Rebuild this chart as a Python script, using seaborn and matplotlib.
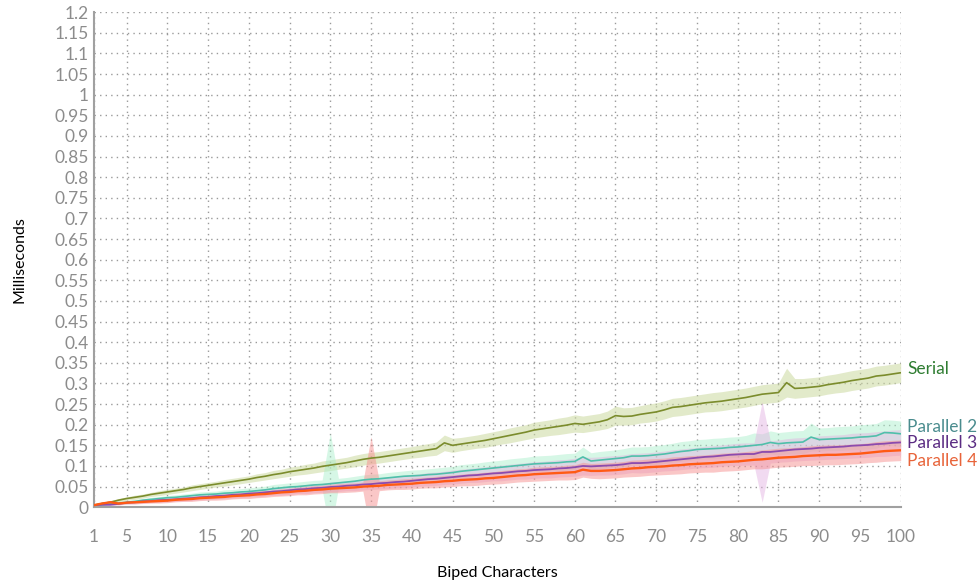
import numpy as np
import pandas as pd
import matplotlib
matplotlib.use("Agg")
import matplotlib.pyplot as plt
import seaborn as sns
from matplotlib.ticker import MultipleLocator, FixedLocator

# ---------------- data ----------------
characters = list(range(1, 101))

serial = [
    0.005, 0.009, 0.012, 0.017, 0.021, 0.024, 0.027, 0.031, 0.034, 0.037,
    0.040, 0.043, 0.047, 0.050, 0.053, 0.056, 0.059, 0.062, 0.065, 0.068,
    0.072, 0.075, 0.079, 0.082, 0.086, 0.089, 0.092, 0.095, 0.099, 0.102,
    0.105, 0.108, 0.112, 0.116, 0.119, 0.121, 0.124, 0.127, 0.130, 0.133,
    0.136, 0.139, 0.142, 0.156, 0.150, 0.153, 0.156, 0.159, 0.162, 0.166,
    0.170, 0.174, 0.178, 0.182, 0.187, 0.190, 0.193, 0.196, 0.199, 0.203,
    0.201, 0.204, 0.207, 0.212, 0.222, 0.220, 0.221, 0.225, 0.228, 0.231,
    0.236, 0.242, 0.244, 0.247, 0.250, 0.253, 0.255, 0.257, 0.260, 0.263,
    0.266, 0.270, 0.274, 0.276, 0.278, 0.302, 0.288, 0.289, 0.291, 0.293,
    0.297, 0.300, 0.303, 0.307, 0.310, 0.313, 0.318, 0.320, 0.323, 0.326,
]
parallel2 = [
    0.005, 0.006, 0.008, 0.010, 0.012, 0.014, 0.017, 0.019, 0.021, 0.023,
    0.024, 0.026, 0.028, 0.030, 0.031, 0.032, 0.034, 0.035, 0.037, 0.038,
    0.040, 0.042, 0.045, 0.047, 0.049, 0.050, 0.052, 0.054, 0.055, 0.057,
    0.059, 0.061, 0.063, 0.066, 0.068, 0.069, 0.071, 0.073, 0.075, 0.076,
    0.077, 0.079, 0.080, 0.082, 0.084, 0.087, 0.089, 0.091, 0.093, 0.095,
    0.097, 0.099, 0.101, 0.103, 0.105, 0.106, 0.107, 0.108, 0.110, 0.111,
    0.122, 0.112, 0.114, 0.116, 0.118, 0.120, 0.124, 0.124, 0.125, 0.127,
    0.129, 0.132, 0.135, 0.137, 0.140, 0.141, 0.142, 0.143, 0.145, 0.146,
    0.148, 0.150, 0.152, 0.157, 0.154, 0.156, 0.157, 0.158, 0.170, 0.164,
    0.165, 0.166, 0.167, 0.168, 0.170, 0.171, 0.173, 0.181, 0.180, 0.178,
]
parallel3 = [
    0.005, 0.006, 0.006, 0.008, 0.011, 0.012, 0.014, 0.015, 0.017, 0.018,
    0.019, 0.021, 0.022, 0.024, 0.025, 0.027, 0.028, 0.030, 0.031, 0.033,
    0.034, 0.036, 0.038, 0.039, 0.041, 0.043, 0.044, 0.046, 0.047, 0.049,
    0.050, 0.052, 0.053, 0.055, 0.056, 0.058, 0.059, 0.061, 0.062, 0.064,
    0.066, 0.068, 0.069, 0.071, 0.073, 0.075, 0.077, 0.078, 0.080, 0.082,
    0.083, 0.085, 0.087, 0.088, 0.090, 0.091, 0.092, 0.094, 0.095, 0.097,
    0.100, 0.099, 0.100, 0.101, 0.102, 0.104, 0.107, 0.107, 0.108, 0.110,
    0.112, 0.114, 0.116, 0.118, 0.120, 0.122, 0.123, 0.125, 0.127, 0.128,
    0.129, 0.129, 0.134, 0.134, 0.136, 0.138, 0.140, 0.141, 0.142, 0.144,
    0.145, 0.146, 0.147, 0.149, 0.150, 0.151, 0.153, 0.154, 0.156, 0.157,
]
parallel4 = [
    0.005, 0.009, 0.012, 0.009, 0.011, 0.012, 0.013, 0.014, 0.015, 0.016,
    0.018, 0.019, 0.020, 0.022, 0.023, 0.024, 0.025, 0.027, 0.028, 0.029,
    0.031, 0.032, 0.034, 0.036, 0.037, 0.039, 0.040, 0.042, 0.043, 0.045,
    0.046, 0.047, 0.048, 0.050, 0.051, 0.052, 0.054, 0.055, 0.056, 0.057,
    0.059, 0.060, 0.061, 0.063, 0.064, 0.066, 0.067, 0.068, 0.070, 0.071,
    0.073, 0.075, 0.077, 0.078, 0.080, 0.081, 0.082, 0.083, 0.084, 0.085,
    0.091, 0.088, 0.088, 0.089, 0.090, 0.092, 0.094, 0.095, 0.097, 0.098,
    0.099, 0.101, 0.102, 0.104, 0.105, 0.106, 0.107, 0.109, 0.110, 0.111,
    0.113, 0.115, 0.116, 0.118, 0.120, 0.121, 0.122, 0.124, 0.125, 0.126,
    0.127, 0.127, 0.128, 0.129, 0.130, 0.132, 0.134, 0.136, 0.137, 0.138,
]

# half-width of the shaded spread band around each series
serial_spread = [
    0.003, 0.003, 0.004, 0.004, 0.004, 0.005, 0.005, 0.005, 0.006, 0.006,
    0.006, 0.006, 0.007, 0.007, 0.007, 0.007, 0.008, 0.008, 0.008, 0.008,
    0.009, 0.009, 0.010, 0.010, 0.011, 0.011, 0.012, 0.012, 0.013, 0.013,
    0.013, 0.013, 0.014, 0.014, 0.014, 0.014, 0.014, 0.014, 0.014, 0.014,
    0.015, 0.015, 0.016, 0.019, 0.017, 0.016, 0.016, 0.016, 0.017, 0.017,
    0.017, 0.018, 0.018, 0.018, 0.019, 0.019, 0.019, 0.020, 0.020, 0.021,
    0.020, 0.020, 0.020, 0.021, 0.023, 0.021, 0.021, 0.021, 0.022, 0.022,
    0.022, 0.022, 0.022, 0.022, 0.022, 0.022, 0.023, 0.023, 0.023, 0.023,
    0.023, 0.023, 0.023, 0.023, 0.023, 0.035, 0.024, 0.023, 0.023, 0.023,
    0.023, 0.023, 0.024, 0.024, 0.024, 0.024, 0.024, 0.024, 0.024, 0.024,
]
parallel2_spread = [
    0.002, 0.003, 0.003, 0.003, 0.004, 0.004, 0.004, 0.005, 0.005, 0.005,
    0.006, 0.006, 0.006, 0.007, 0.007, 0.007, 0.008, 0.008, 0.008, 0.009,
    0.009, 0.009, 0.010, 0.010, 0.010, 0.011, 0.011, 0.011, 0.011, 0.123,
    0.011, 0.011, 0.012, 0.012, 0.012, 0.012, 0.013, 0.013, 0.013, 0.014,
    0.014, 0.014, 0.015, 0.015, 0.015, 0.016, 0.016, 0.016, 0.017, 0.017,
    0.017, 0.018, 0.018, 0.018, 0.019, 0.019, 0.019, 0.020, 0.020, 0.020,
    0.024, 0.020, 0.021, 0.021, 0.021, 0.022, 0.022, 0.022, 0.022, 0.023,
    0.023, 0.023, 0.024, 0.024, 0.024, 0.024, 0.025, 0.025, 0.025, 0.025,
    0.026, 0.030, 0.026, 0.028, 0.027, 0.027, 0.028, 0.028, 0.034, 0.028,
    0.028, 0.029, 0.029, 0.029, 0.030, 0.030, 0.030, 0.031, 0.031, 0.031,
]
parallel3_spread = [
    0.002, 0.002, 0.003, 0.003, 0.003, 0.004, 0.004, 0.004, 0.005, 0.005,
    0.005, 0.006, 0.006, 0.006, 0.007, 0.007, 0.007, 0.008, 0.008, 0.008,
    0.009, 0.009, 0.009, 0.010, 0.010, 0.010, 0.011, 0.011, 0.011, 0.012,
    0.012, 0.012, 0.013, 0.013, 0.013, 0.014, 0.014, 0.014, 0.015, 0.015,
    0.015, 0.016, 0.016, 0.016, 0.017, 0.017, 0.017, 0.018, 0.018, 0.018,
    0.019, 0.019, 0.019, 0.020, 0.020, 0.020, 0.021, 0.021, 0.021, 0.022,
    0.022, 0.022, 0.022, 0.023, 0.023, 0.023, 0.023, 0.024, 0.024, 0.024,
    0.024, 0.025, 0.025, 0.025, 0.025, 0.026, 0.026, 0.026, 0.026, 0.027,
    0.027, 0.027, 0.122, 0.027, 0.027, 0.028, 0.028, 0.028, 0.028, 0.029,
    0.029, 0.029, 0.029, 0.030, 0.030, 0.030, 0.030, 0.031, 0.031, 0.031,
]
parallel4_spread = [
    0.002, 0.003, 0.003, 0.003, 0.003, 0.004, 0.004, 0.004, 0.005, 0.005,
    0.005, 0.005, 0.006, 0.006, 0.006, 0.007, 0.007, 0.007, 0.007, 0.008,
    0.008, 0.008, 0.008, 0.009, 0.009, 0.009, 0.010, 0.010, 0.010, 0.010,
    0.011, 0.011, 0.011, 0.011, 0.120, 0.012, 0.012, 0.012, 0.013, 0.013,
    0.013, 0.013, 0.014, 0.014, 0.014, 0.014, 0.015, 0.015, 0.015, 0.015,
    0.016, 0.016, 0.016, 0.016, 0.017, 0.017, 0.017, 0.017, 0.018, 0.018,
    0.018, 0.018, 0.019, 0.019, 0.019, 0.019, 0.020, 0.020, 0.020, 0.020,
    0.020, 0.021, 0.021, 0.021, 0.021, 0.021, 0.022, 0.022, 0.022, 0.022,
    0.022, 0.022, 0.023, 0.023, 0.023, 0.023, 0.023, 0.023, 0.024, 0.024,
    0.024, 0.024, 0.024, 0.024, 0.024, 0.024, 0.025, 0.025, 0.025, 0.025,
]

series_names = ["Serial", "Parallel 2", "Parallel 3", "Parallel 4"]
x_tick_values = [1] + list(range(5, 101, 5))
x_label = "Biped Characters"
y_label = "Milliseconds"

# ---------------- styles ----------------
line_colors = {"Serial": "#7b8c2c", "Parallel 2": "#4fbfaa",
               "Parallel 3": "#8b4bae", "Parallel 4": "#ff5a14"}
band_colors = {"Serial": "#cbd99f", "Parallel 2": "#a6eec8",
               "Parallel 3": "#e2aee0", "Parallel 4": "#f69090"}
band_alpha = {"Serial": 0.55, "Parallel 2": 0.45, "Parallel 3": 0.45, "Parallel 4": 0.5}
label_colors = {"Serial": "#2f7d32", "Parallel 2": "#4a8c8e",
                "Parallel 3": "#5b2c83", "Parallel 4": "#e8643a"}
line_widths = {"Serial": 1.2, "Parallel 2": 1.2, "Parallel 3": 1.3, "Parallel 4": 1.7}

values = {"Serial": serial, "Parallel 2": parallel2,
          "Parallel 3": parallel3, "Parallel 4": parallel4}
spreads = {"Serial": serial_spread, "Parallel 2": parallel2_spread,
           "Parallel 3": parallel3_spread, "Parallel 4": parallel4_spread}

df = pd.concat([
    pd.DataFrame({"chars": characters, "ms": values[n], "spread": spreads[n], "series": n})
    for n in series_names
], ignore_index=True)

sns.set_theme(style="white")
plt.rcParams["font.family"] = ["Lato", "DejaVu Sans"]

fig, ax = plt.subplots(figsize=(9.79, 5.83), dpi=100)
fig.subplots_adjust(left=0.096, right=0.920, top=0.979, bottom=0.130)

# spread bands
for n in series_names:
    d = df[df.series == n]
    ax.fill_between(d.chars, d.ms - d.spread, d.ms + d.spread,
                    color=band_colors[n], alpha=band_alpha[n], lw=0, zorder=2)

# lines
for n in series_names:
    sns.lineplot(data=df[df.series == n], x="chars", y="ms", color=line_colors[n],
                 lw=line_widths[n], ax=ax, legend=False, zorder=3)

ax.set_xlim(1, 100)
ax.set_ylim(0, 1.2)

ax.xaxis.set_major_locator(FixedLocator(x_tick_values))
ax.xaxis.set_minor_locator(MultipleLocator(1))
y_ticks = np.round(np.arange(0, 1.2001, 0.05), 2)
ax.set_yticks(y_ticks)
ax.set_yticklabels([f"{v:g}" for v in y_ticks])
ax.yaxis.set_minor_locator(MultipleLocator(0.01))

grey = "#8c8c8c"
ax.tick_params(axis="both", which="major", direction="in", length=6, width=1,
               color="#9a9a9a", labelcolor=grey, labelsize=12.5)
ax.tick_params(axis="both", which="minor", direction="in", length=2.5, width=0.8,
               color="#9a9a9a")
ax.tick_params(axis="x", which="major", pad=16)
ax.tick_params(axis="y", which="major", pad=4)

ax.grid(True, which="major", linestyle=(0, (1, 3)), color="#9a9a9a", lw=1)
for s in ["top", "right"]:
    ax.spines[s].set_visible(False)
for s in ["left", "bottom"]:
    ax.spines[s].set_color("#a0a0a0")
    ax.spines[s].set_linewidth(1.5)

ax.set_xlabel(x_label, fontsize=11.5, color="black", labelpad=15)
ax.set_ylabel(y_label, fontsize=11.5, color="black", labelpad=20)

# end labels
label_offsets = {"Serial": 0.010, "Parallel 2": 0.016, "Parallel 3": -0.002, "Parallel 4": -0.026}
for n in series_names:
    ax.text(100.8, values[n][-1] + label_offsets[n], n, color=label_colors[n],
            fontsize=12.5, va="center", ha="left", clip_on=False)

fig.savefig("out.png", dpi=100)
